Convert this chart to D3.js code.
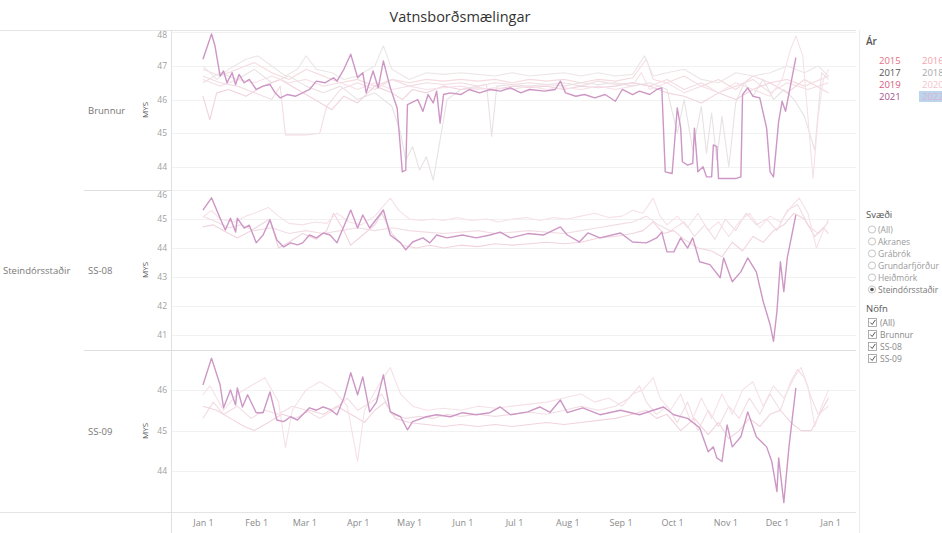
<!DOCTYPE html>
<html>
<head>
<meta charset="utf-8">
<script src="https://cdn.jsdelivr.net/npm/d3@7"></script>
<style>
  body { margin: 0; background: #fff; }
  svg { font-family: "Open Sans", sans-serif; }
</style>
</head>
<body>
<div id="chart"></div>
<script>
// ---------------------------------------------------------------
// data: [day of year, MYS]
var years = ["2015", "2016", "2017", "2018", "2019", "2020", "2021", "2022"];
var yearTextColors = ["#e2717f", "#f2a3ab", "#555555", "#a8a8a8", "#d65a7c", "#f3c3d0", "#a3558e", "#d9b3d3"];

var svaediItems = ["(All)", "Akranes", "Grábrók", "Grundarfjörður", "Heiðmörk", "Steindórsstaðir"];
var nofnItems = ["(All)", "Brunnur", "SS-08", "SS-09"];

var brunnur2015 = [[0,46.9],[10,46.7],[20,46.9],[30,47.1],[40,46.8],[50,46.6],[60,46.9],[70,46.7],[80,46.5],[90,46.6],[100,46.4],[110,46.6],[120,46.5],[130,46.6],[140,46.55],[150,46.6],[160,46.55],[170,46.6],[180,46.5],[190,46.6],[200,46.55],[210,46.6],[220,46.5],[230,46.6],[240,46.55],[250,46.65],[258,47.2],[262,46.6],[270,46.5],[280,46.7],[290,46.4],[300,46.6],[310,46.3],[320,46.7],[330,46.5],[340,46.6],[350,46.4],[364,46.7]];
var brunnur2016 = [[0,47.0],[8,46.6],[15,46.9],[25,47.2],[32,47.3],[40,47.0],[48,46.7],[55,46.9],[60,47.3],[66,46.9],[75,46.8],[82,46.6],[90,46.7],[100,47.0],[105,47.6],[110,46.9],[120,46.6],[130,46.8],[140,46.75],[150,46.8],[160,46.75],[170,46.7],[180,46.8],[190,46.7],[200,46.75],[210,46.8],[220,46.7],[230,46.8],[240,46.7],[250,46.75],[257,47.3],[262,46.7],[270,46.8],[280,46.9],[290,46.6],[300,46.5],[310,46.8],[320,46.7],[330,46.8],[340,47.0],[350,46.8],[358,47.0],[364,46.7]];
var brunnur2017 = [[0,46.5],[10,46.8],[20,46.6],[30,46.9],[40,46.5],[50,46.7],[60,46.4],[70,46.2],[80,46.4],[90,46.0],[100,46.2],[110,45.8],[115,45.0],[118,44.2],[122,44.6],[126,43.9],[130,44.3],[134,43.6],[138,44.8],[142,46.0],[150,46.3],[160,46.4],[165,46.45],[168,44.9],[171,46.4],[180,46.45],[190,46.4],[200,46.45],[210,46.4],[220,46.5],[230,46.45],[240,46.5],[250,46.4],[260,46.5],[270,46.3],[276,45.0],[280,46.0],[285,44.5],[290,45.8],[293,44.4],[296,45.6],[299,44.2],[302,45.5],[306,44.0],[310,45.9],[315,46.5],[320,46.1],[326,46.6],[332,46.0],[338,46.3],[344,46.0],[350,45.5],[356,44.5],[360,46.8],[364,46.6]];
var brunnur2018 = [[0,46.7],[10,46.5],[20,46.4],[30,46.2],[40,46.0],[45,46.4],[48,44.95],[60,44.95],[68,45.0],[72,45.8],[80,46.3],[90,46.5],[100,46.3],[110,46.6],[120,46.4],[130,46.5],[140,46.45],[150,46.5],[160,46.4],[170,46.5],[180,46.45],[190,46.5],[200,46.45],[210,46.5],[220,46.4],[230,46.55],[240,46.45],[250,46.5],[260,46.4],[270,46.6],[280,46.3],[290,46.5],[300,46.2],[310,46.4],[320,46.6],[330,46.2],[340,46.5],[352,46.3],[364,46.5]];
var brunnur2019 = [[0,46.1],[4,45.4],[8,46.2],[15,46.3],[25,46.1],[35,46.4],[45,46.6],[55,46.3],[65,46.0],[75,45.7],[82,46.1],[90,45.9],[100,46.4],[110,46.2],[116,46.0],[122,46.3],[130,46.2],[140,46.4],[150,46.3],[160,46.35],[170,46.3],[180,46.4],[190,46.35],[200,46.4],[210,46.3],[220,46.4],[230,46.35],[240,46.4],[250,46.5],[260,46.4],[270,46.2],[280,46.1],[290,45.9],[300,46.2],[310,46.0],[320,46.3],[330,46.5],[340,46.2],[350,46.6],[364,46.2]];
var brunnur2020 = [[0,46.6],[10,46.4],[20,46.6],[30,46.5],[40,46.7],[50,46.5],[60,46.6],[70,46.4],[80,46.5],[90,46.3],[100,46.5],[110,46.3],[120,46.4],[130,46.3],[140,46.35],[150,46.4],[160,46.3],[170,46.35],[180,46.3],[190,46.4],[200,46.3],[210,46.35],[220,46.3],[230,46.4],[240,46.3],[250,46.4],[255,46.8],[260,46.3],[270,46.5],[280,46.2],[290,46.4],[300,46.2],[310,46.5],[320,46.3],[330,46.1],[337,46.6],[342,47.5],[345,47.9],[349,47.3],[352,45.5],[355,43.65],[358,45.5],[361,46.6],[364,46.9]];
var brunnur2021 = [[0,47.2],[5,47.95],[7,47.6],[10,46.7],[12,46.85],[14,46.5],[17,46.8],[19,46.45],[21,46.75],[24,46.5],[27,46.6],[31,46.3],[35,46.4],[39,46.45],[42,46.2],[45,46.05],[49,46.15],[54,46.1],[58,46.2],[62,46.3],[66,46.55],[71,46.5],[76,46.65],[78,46.55],[82,46.9],[86,47.35],[90,46.65],[93,46.8],[95,46.2],[99,46.85],[102,46.35],[105,47.15],[109,46.35],[113,45.75],[115,44.5],[116,43.85],[118,43.9],[119,45.85],[125,46.0],[128,45.65],[131,46.15],[134,45.9],[136,46.25],[138,45.3],[140,46.15],[144,46.2],[150,46.15],[155,46.3],[161,46.2],[167,46.3],[173,46.25],[179,46.35],[185,46.2],[190,46.3],[199,46.25],[205,46.3],[208,46.55],[211,46.2],[217,46.1],[222,46.15],[228,46.05],[234,46.15],[240,45.95],[244,46.3],[250,46.15],[254,46.25],[260,46.15],[264,46.3],[267,46.35],[269,43.85],[273,43.8],[276,45.75],[278,45.15],[279,44.15],[282,44.05],[285,44.1],[286,45.15],[288,43.85],[291,44.0],[293,43.7],[296,43.7],[297,44.65],[299,44.6],[300,43.65],[304,43.65],[310,43.65],[313,43.7],[314,46.15],[317,46.35],[320,46.1],[324,46.05],[328,45.15],[330,43.85],[332,43.7],[335,45.35],[337,45.95],[339,45.65],[345,47.25]];

var ss08y2018 = [[0,45.1],[8,44.9],[15,44.7],[22,44.8],[30,44.6],[40,44.7],[50,44.5],[60,44.6],[70,44.5],[80,44.6],[90,44.7],[100,44.6],[110,44.7],[120,44.6],[130,44.55],[140,44.5],[150,44.55],[160,44.6],[170,44.5],[180,44.55],[190,44.6],[200,44.55],[210,44.5],[220,44.6],[230,44.7],[240,44.8],[250,44.9],[258,45.1],[265,44.8],[272,44.6],[280,44.9],[286,44.4],[292,44.8],[298,44.3],[304,45.0],[310,44.6],[316,45.2],[322,44.8],[328,45.0],[334,44.6],[340,45.3],[346,45.5],[352,44.8],[358,44.5],[364,44.9]];
var ss08y2019 = [[0,44.73],[6,44.8],[12,44.6],[20,44.35],[28,44.6],[36,44.9],[39,45.0],[44,44.0],[50,44.2],[58,44.5],[66,44.3],[72,44.6],[76,45.2],[82,44.6],[86,44.1],[92,44.4],[100,44.8],[104,45.2],[110,44.5],[116,44.1],[124,44.0],[132,44.1],[140,44.0],[150,44.1],[160,44.05],[170,44.15],[180,44.1],[190,44.15],[200,44.2],[210,44.15],[220,44.2],[230,44.35],[240,44.4],[250,44.5],[256,44.6],[262,44.9],[268,44.5],[274,44.6],[280,44.3],[288,44.0],[296,43.9],[302,43.7],[308,44.2],[314,43.9],[320,44.4],[326,44.2],[332,44.6],[338,44.8],[344,45.2],[350,45.0],[356,44.4],[361,44.7],[364,44.5]];
var ss08y2020 = [[0,45.07],[5,45.3],[10,45.0],[18,44.9],[25,45.1],[32,45.25],[38,45.4],[44,45.1],[50,44.85],[58,44.8],[65,44.9],[72,44.85],[78,45.2],[85,44.9],[92,44.8],[100,45.1],[109,45.72],[114,45.3],[120,45.0],[127,44.95],[134,45.0],[140,44.95],[148,45.05],[156,44.95],[165,45.0],[172,44.9],[180,45.0],[188,45.05],[196,44.95],[204,45.05],[212,45.0],[220,45.1],[228,45.2],[236,45.05],[244,45.1],[250,45.3],[256,45.2],[262,45.72],[266,45.1],[270,44.8],[276,45.1],[282,44.7],[288,45.2],[294,44.6],[300,44.9],[306,44.4],[312,44.9],[318,45.2],[324,44.7],[330,45.1],[336,44.9],[342,45.4],[347,45.72],[352,45.2],[357,44.0],[361,44.6],[364,45.0]];
var ss08y2021 = [[0,45.31],[5,45.73],[10,45.03],[13,44.62],[16,45.03],[19,44.55],[20,45.03],[24,44.69],[27,44.79],[31,44.18],[35,44.45],[39,44.97],[43,44.28],[47,44.04],[51,44.18],[55,44.11],[58,44.18],[62,44.45],[66,44.35],[70,44.52],[74,44.45],[78,44.18],[86,45.31],[90,44.69],[93,45.14],[97,44.69],[105,45.31],[109,44.45],[115,44.18],[118,43.94],[122,44.21],[128,44.35],[132,44.18],[136,44.45],[142,44.35],[151,44.45],[159,44.35],[167,44.45],[173,44.55],[179,44.35],[189,44.5],[198,44.45],[208,44.73],[212,44.45],[219,44.21],[224,44.52],[231,44.35],[243,44.52],[250,44.21],[258,44.18],[264,44.35],[267,44.55],[270,43.87],[274,43.87],[278,44.35],[282,44.0],[285,44.35],[289,43.53],[295,43.43],[301,42.98],[303,43.66],[308,42.84],[313,43.18],[317,43.66],[322,43.18],[326,42.16],[330,41.37],[332,40.79],[334,41.82],[336,43.53],[338,42.5],[340,43.66],[345,45.14]];

var ss09y2018 = [[0,45.3],[6,45.7],[12,45.4],[20,45.6],[28,45.3],[36,45.5],[44,45.4],[52,45.6],[60,45.5],[68,45.3],[76,45.5],[84,45.8],[90,45.5],[98,45.7],[104,45.9],[110,45.4],[118,45.3],[126,45.35],[134,45.3],[142,45.4],[150,45.35],[160,45.4],[170,45.35],[180,45.4],[190,45.45],[200,45.4],[210,45.5],[220,45.6],[230,45.5],[240,45.6],[248,45.8],[254,46.1],[258,45.7],[264,45.4],[270,45.6],[276,45.2],[282,45.7],[288,45.0],[294,45.5],[300,45.1],[306,45.6],[312,45.3],[318,45.8],[324,45.4],[330,45.9],[336,45.5],[342,46.2],[346,46.5],[350,46.3],[354,45.8],[358,45.4],[364,45.6]];
var ss09y2019 = [[0,45.6],[8,45.5],[16,45.3],[24,45.1],[30,45.0],[38,45.2],[46,45.4],[54,45.3],[62,45.5],[70,45.4],[78,45.6],[86,45.4],[94,45.2],[100,45.5],[106,45.7],[112,45.3],[120,45.2],[130,45.15],[140,45.1],[150,45.15],[160,45.1],[170,45.15],[180,45.1],[190,45.15],[200,45.2],[210,45.15],[220,45.2],[230,45.25],[240,45.3],[250,45.4],[258,45.5],[264,45.3],[270,45.4],[278,45.0],[286,45.3],[294,44.9],[300,45.2],[306,44.8],[312,45.0],[318,45.3],[324,45.1],[330,45.4],[336,45.5],[342,45.2],[348,45.0],[354,45.0],[360,45.5],[364,45.8]];
var ss09y2020 = [[0,45.88],[4,46.1],[12,45.5],[20,45.9],[28,46.1],[36,46.3],[44,45.7],[48,44.58],[52,45.5],[60,46.0],[68,46.2],[76,46.0],[84,45.6],[90,44.24],[94,45.5],[102,46.1],[109,46.55],[115,45.9],[122,45.6],[130,45.5],[140,45.55],[150,45.5],[160,45.6],[170,45.55],[180,45.6],[190,45.65],[200,45.7],[210,45.8],[220,45.9],[228,45.7],[236,45.8],[244,45.6],[250,45.9],[256,46.0],[262,46.3],[266,45.8],[272,45.5],[278,45.9],[284,45.2],[290,45.8],[296,45.3],[302,45.9],[308,45.4],[314,46.0],[320,46.2],[326,45.6],[332,46.1],[338,45.8],[344,46.3],[348,46.55],[352,46.1],[356,45.1],[360,45.6],[364,46.0]];
var ss09y2021 = [[0,46.12],[5,46.78],[10,46.12],[12,45.56],[16,46.0],[19,45.63],[20,46.05],[23,45.58],[26,45.88],[31,45.44],[35,45.44],[39,45.95],[43,45.26],[47,45.22],[51,45.34],[55,45.26],[58,45.39],[62,45.56],[66,45.5],[70,45.58],[74,45.52],[78,45.39],[82,45.8],[86,46.42],[90,45.88],[93,46.32],[97,45.46],[101,45.7],[105,46.37],[109,45.46],[115,45.34],[119,45.02],[122,45.22],[130,45.34],[136,45.39],[144,45.34],[151,45.44],[159,45.39],[167,45.44],[173,45.58],[179,45.39],[189,45.46],[196,45.58],[202,45.45],[208,45.75],[212,45.44],[221,45.56],[231,45.39],[243,45.5],[254,45.39],[262,45.5],[268,45.58],[274,45.39],[282,45.3],[289,45.07],[294,44.48],[297,44.6],[299,44.33],[302,44.24],[305,45.14],[308,44.6],[313,44.85],[317,45.46],[322,44.85],[328,44.6],[331,44.24],[334,43.5],[335,44.33],[338,43.23],[341,44.6],[345,46.05]];

// faded colours for other years, highlighted 2021
var fadedColors = {"2015": "#f5dade", "2016": "#ece6e7", "2017": "#e8e2e3", "2018": "#f2dde3", "2019": "#f1d4de", "2020": "#f6e1e9"};
var highlightColor = "#cd97c5";

// ---------------------------------------------------------------
var width = 942, height = 533;
var plotLeft = 172, plotRight = 856;

var svg = d3.select("#chart").append("svg").attr("width", width).attr("height", height);

svg.append("text").attr("x", 460).attr("y", 22).attr("text-anchor", "middle")
  .style("font-size", "14.5px").attr("fill", "#333").text("Vatnsborðsmælingar");

var xScale = d3.scaleTime()
  .domain([new Date(2000, 11, 14), new Date(2002, 0, 16)])
  .range([plotLeft, plotRight]);

function dayDate(d) { return d3.timeDay.offset(new Date(2001, 0, 1), d); }

var panels = [
  {name: "Brunnur", top: 30, bottom: 190, domain: [43.31, 48.07], ticks: [44, 45, 46, 47, 48],
   series: [["2015", brunnur2015], ["2016", brunnur2016], ["2017", brunnur2017], ["2018", brunnur2018], ["2019", brunnur2019], ["2020", brunnur2020], ["2021", brunnur2021]]},
  {name: "SS-08", top: 190, bottom: 350, domain: [40.49, 46.0], ticks: [41, 42, 43, 44, 45, 46],
   series: [["2018", ss08y2018], ["2019", ss08y2019], ["2020", ss08y2020], ["2021", ss08y2021]]},
  {name: "SS-09", top: 350, bottom: 512, domain: [43.0, 46.98], ticks: [44, 45, 46],
   series: [["2018", ss09y2018], ["2019", ss09y2019], ["2020", ss09y2020], ["2021", ss09y2021]]}
];

// top border
svg.append("line").attr("x1", 0).attr("x2", plotRight).attr("y1", 30.5).attr("y2", 30.5).attr("stroke", "#e4e4e4");

panels.forEach(function(p, i) {
  var yScale = d3.scaleLinear().domain(p.domain).range([p.bottom, p.top]);
  var g = svg.append("g");

  // gridlines
  g.selectAll(".grid").data(p.ticks).enter().append("line")
    .attr("x1", plotLeft).attr("x2", plotRight)
    .attr("y1", function(t) { return Math.round(yScale(t)) + 0.5; })
    .attr("y2", function(t) { return Math.round(yScale(t)) + 0.5; })
    .attr("stroke", "#f1f1f1");

  // tick labels
  g.selectAll(".tl").data(p.ticks).enter().append("text")
    .attr("x", 167).attr("text-anchor", "end")
    .attr("y", function(t) { return Math.max(yScale(t), p.top + 5) + 3; })
    .style("font-size", "8.5px").attr("fill", "#a0a0a0")
    .text(function(t) { return t; });

  // axis title
  g.append("text").attr("transform", "translate(148," + ((p.top + p.bottom) / 2) + ") rotate(-90)")
    .attr("text-anchor", "middle").style("font-size", "8px").attr("fill", "#555").text("MYS");

  // row header
  g.append("text").attr("x", 88).attr("y", (p.top + p.bottom) / 2 + 4)
    .style("font-size", "9.5px").attr("fill", "#777").text(p.name);

  // bottom border of panel
  g.append("line").attr("x1", i == 2 ? 0 : 84).attr("x2", plotRight)
    .attr("y1", p.bottom + 0.5).attr("y2", p.bottom + 0.5)
    .attr("stroke", i == 2 ? "#e4e4e4" : "#dedede");

  var clipId = "clip" + i;
  svg.append("clipPath").attr("id", clipId).append("rect")
    .attr("x", plotLeft).attr("y", p.top).attr("width", plotRight - plotLeft).attr("height", p.bottom - p.top);

  var line = d3.line()
    .x(function(d) { return xScale(dayDate(d[0])); })
    .y(function(d) { return yScale(d[1]); });

  var lg = svg.append("g").attr("clip-path", "url(#" + clipId + ")");
  p.series.forEach(function(s) {
    var hi = s[0] == "2021";
    lg.append("path").datum(s[1])
      .attr("class", hi ? "hi" : "faded")
      .attr("d", line).attr("fill", "none")
      .attr("stroke", hi ? highlightColor : fadedColors[s[0]])
      .attr("stroke-width", hi ? 1.4 : 1.1)
      .attr("stroke-linejoin", "round");
  });
  lg.selectAll(".hi").raise();
});

// group header
svg.append("text").attr("x", 3).attr("y", 274).style("font-size", "9.5px").attr("fill", "#777").text("Steindórsstaðir");

// axis line at left, legend separator
svg.append("line").attr("x1", 171.5).attr("x2", 171.5).attr("y1", 30).attr("y2", 533).attr("stroke", "#e0e0e0");
svg.append("line").attr("x1", 859.5).attr("x2", 859.5).attr("y1", 30).attr("y2", 533).attr("stroke", "#ececec");

// x axis
var xAxis = d3.axisBottom(xScale)
  .ticks(d3.timeMonth.every(1))
  .tickFormat(d3.timeFormat("%b %-d"))
  .tickSize(0);
var xg = svg.append("g").attr("transform", "translate(0,515)").call(xAxis);
xg.select(".domain").remove();
xg.selectAll("text").style("font-size", "9px").style("font-family", "'Open Sans', sans-serif").attr("fill", "#8a8a8a").attr("dy", "0.9em");

// legend: Ár
svg.append("text").attr("x", 866).attr("y", 45).style("font-size", "10px").style("font-weight", "600").attr("fill", "#555").text("Ár");
svg.append("rect").attr("x", 919).attr("y", 91).attr("width", 30).attr("height", 11).attr("fill", "#bcd5ec");
svg.selectAll(".yr").data(years).enter().append("text")
  .attr("x", function(d, i) { return i % 2 == 0 ? 879 : 922; })
  .attr("y", function(d, i) { return 63.5 + Math.floor(i / 2) * 12.2; })
  .style("font-size", "9.5px")
  .attr("fill", function(d, i) { return yearTextColors[i]; })
  .text(function(d) { return d; });

// legend: Svæði
svg.append("text").attr("x", 866).attr("y", 218).style("font-size", "9.5px").attr("fill", "#555").text("Svæði");
svaediItems.forEach(function(item, i) {
  var y = 229.5 + i * 12;
  svg.append("circle").attr("cx", 872).attr("cy", y).attr("r", 3.6).attr("fill", "#fff").attr("stroke", "#b5b5b5").attr("stroke-width", 0.8);
  if (item == "Steindórsstaðir") svg.append("circle").attr("cx", 872).attr("cy", y).attr("r", 1.8).attr("fill", "#555");
  svg.append("text").attr("x", 878).attr("y", y + 3).style("font-size", "8.5px")
    .attr("fill", item == "Steindórsstaðir" ? "#777" : "#9a9a9a").text(item);
});

// legend: Nöfn
svg.append("text").attr("x", 866).attr("y", 312).style("font-size", "9.5px").attr("fill", "#555").text("Nöfn");
nofnItems.forEach(function(item, i) {
  var y = 322.5 + i * 12;
  svg.append("rect").attr("x", 868.5).attr("y", y - 4).attr("width", 8).attr("height", 8).attr("fill", "#fff").attr("stroke", "#999").attr("stroke-width", 0.8);
  svg.append("path").attr("d", "M870.3," + (y) + " L872.2," + (y + 2) + " L875.3," + (y - 2.5)).attr("fill", "none").attr("stroke", "#555").attr("stroke-width", 1);
  svg.append("text").attr("x", 880).attr("y", y + 3).style("font-size", "8.5px").attr("fill", "#888").text(item);
});
</script>
</body>
</html>
